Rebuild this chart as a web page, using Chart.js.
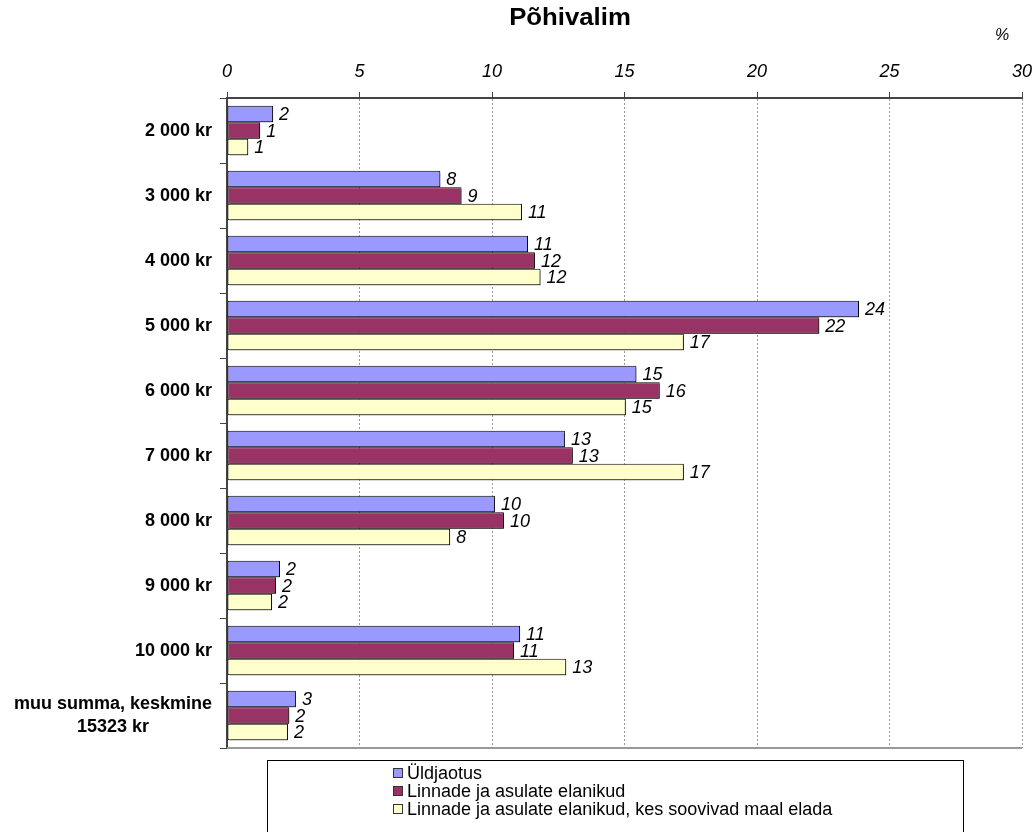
<!DOCTYPE html>
<html lang="et">
<head>
<meta charset="utf-8">
<title>Põhivalim</title>
<script src="https://cdn.jsdelivr.net/npm/chart.js@4.4.7/dist/chart.umd.min.js"></script>
<style>
*{margin:0;padding:0;box-sizing:border-box}
body{background:#fff;width:1035px;height:832px;overflow:hidden}
#wrap{position:relative;width:1035px;height:832px}
</style>
</head>
<body>
<div id="wrap"><canvas id="chart" width="1035" height="832"></canvas></div>
<script>
// categories (last one is two lines)
const categories = ['2 000 kr', '3 000 kr', '4 000 kr', '5 000 kr', '6 000 kr', '7 000 kr', '8 000 kr', '9 000 kr', '10 000 kr', ['muu summa, keskmine', '15323 kr']];
const seriesNames = ['Üldjaotus', 'Linnade ja asulate elanikud', 'Linnade ja asulate elanikud, kes soovivad maal elada'];
const uldjaotus = [1.74, 8.05, 11.36, 23.85, 15.45, 12.75, 10.11, 2.0, 11.06, 2.6];
const linnad    = [1.25, 8.85, 11.62, 22.35, 16.33, 13.05, 10.45, 1.85, 10.83, 2.35];
const maal      = [0.8, 11.13, 11.83, 17.24, 15.05, 17.24, 8.42, 1.7, 12.8, 2.3];
const colors = ['#9999ff', '#993366', '#ffffcc'];
const xTicks = [0, 5, 10, 15, 20, 25, 30];

const FONT = "'Liberation Sans', Arial, sans-serif";

// bar shadow
const shadowPlugin = {
  id: 'shadow',
  beforeDatasetsDraw(chart) {
    const ctx = chart.ctx;
    ctx.save();
    ctx.shadowColor = 'rgba(0,0,0,0.4)';
    ctx.shadowOffsetX = 2;
    ctx.shadowOffsetY = 2;
    ctx.shadowBlur = 0;
  },
  afterDatasetsDraw(chart) {
    chart.ctx.restore();
  }
};

// value labels, category labels, title, legend
const decorPlugin = {
  id: 'decor',
  afterDatasetsDraw(chart) {
    const ctx = chart.ctx;
    ctx.save();
    ctx.fillStyle = '#000';
    ctx.font = 'italic 18px ' + FONT;
    ctx.textAlign = 'left';
    ctx.textBaseline = 'middle';
    chart.data.datasets.forEach((ds, di) => {
      const meta = chart.getDatasetMeta(di);
      meta.data.forEach((el, i) => {
        ctx.fillText(String(Math.round(ds.data[i])), el.x + 6, el.y + 1);
      });
    });
    ctx.restore();
  },
  afterDraw(chart) {
    const ctx = chart.ctx;
    const yScale = chart.scales.y;
    const area = chart.chartArea;
    ctx.save();
    ctx.fillStyle = '#000';

    // bottom frame line
    ctx.strokeStyle = '#999';
    ctx.lineWidth = 2;
    ctx.beginPath();
    ctx.moveTo(area.left, area.bottom);
    ctx.lineTo(area.right, area.bottom);
    ctx.stroke();

    // category labels
    ctx.font = 'bold 18px ' + FONT;
    ctx.textBaseline = 'middle';
    const rightX = 212;
    categories.forEach((c, i) => {
      const y = yScale.getPixelForValue(i);
      if (Array.isArray(c)) {
        const w = Math.max(...c.map(t => ctx.measureText(t).width));
        ctx.textAlign = 'center';
        const lh = 23;
        const y0 = y - (c.length - 1) * lh / 2;
        c.forEach((t, k) => ctx.fillText(t, rightX - w / 2, y0 + k * lh));
      } else {
        ctx.textAlign = 'right';
        ctx.fillText(c, rightX, y + 1);
      }
    });

    // title + unit
    ctx.textAlign = 'center';
    ctx.textBaseline = 'alphabetic';
    ctx.font = 'bold 23px ' + FONT;
    ctx.save();
    ctx.translate(570, 25);
    ctx.scale(1.12, 1);
    ctx.fillText('Põhivalim', 0, 0);
    ctx.restore();
    ctx.font = 'italic 16px ' + FONT;
    ctx.fillText('%', 1002, 40);

    // legend box
    ctx.strokeStyle = '#000';
    ctx.lineWidth = 1;
    ctx.fillStyle = '#fff';
    ctx.fillRect(267.5, 760.5, 696, 80);
    ctx.strokeRect(267.5, 760.5, 696, 80);
    ctx.font = '18px ' + FONT;
    ctx.textAlign = 'left';
    ctx.textBaseline = 'middle';
    chart.data.datasets.forEach((ds, di) => {
      const cy = 773 + di * 18;
      ctx.fillStyle = ds.backgroundColor;
      ctx.fillRect(393.5, cy - 4.5, 9, 9);
      ctx.strokeStyle = '#333';
      ctx.strokeRect(393.5, cy - 4.5, 9, 9);
      ctx.fillStyle = '#000';
      ctx.fillText(ds.label, 407, cy + 1);
    });
    ctx.restore();
  }
};

const seriesData = [uldjaotus, linnad, maal];

new Chart(document.getElementById('chart'), {
  type: 'bar',
  data: {
    labels: categories.map(c => Array.isArray(c) ? c.join(' ') : c),
    datasets: seriesNames.map((name, i) => ({
      label: name,
      data: seriesData[i],
      backgroundColor: colors[i],
      borderColor: '#000',
      borderWidth: 1,
      borderSkipped: false,
      barPercentage: 1,
      categoryPercentage: 0.76
    }))
  },
  options: {
    indexAxis: 'y',
    responsive: false,
    animation: false,
    events: [],
    layout: { padding: { top: 40, right: 0, bottom: 84, left: 0 } },
    plugins: { legend: { display: false }, title: { display: false }, tooltip: { enabled: false } },
    scales: {
      x: {
        position: 'top',
        min: 0,
        max: 30,
        afterBuildTicks(scale) { scale.ticks = xTicks.map(v => ({ value: v })); },
        afterFit(scale) { scale.height = 58; scale.paddingRight = 13; scale.paddingLeft = 0; },
        ticks: { color: '#000', padding: 9, font: { family: FONT, size: 18, style: 'italic' } },
        grid: { color: '#999', lineWidth: 1, tickLength: 6, tickColor: '#444', tickWidth: 1 },
        border: { color: '#444', width: 2, dash: [2, 2] }
      },
      y: {
        afterFit(scale) { scale.width = 227; },
        ticks: { display: false },
        grid: { drawOnChartArea: false, offset: true, tickLength: 7, color: '#444', lineWidth: 1 },
        border: { color: '#444', width: 2 }
      }
    }
  },
  plugins: [shadowPlugin, decorPlugin]
});
</script>
</body>
</html>
